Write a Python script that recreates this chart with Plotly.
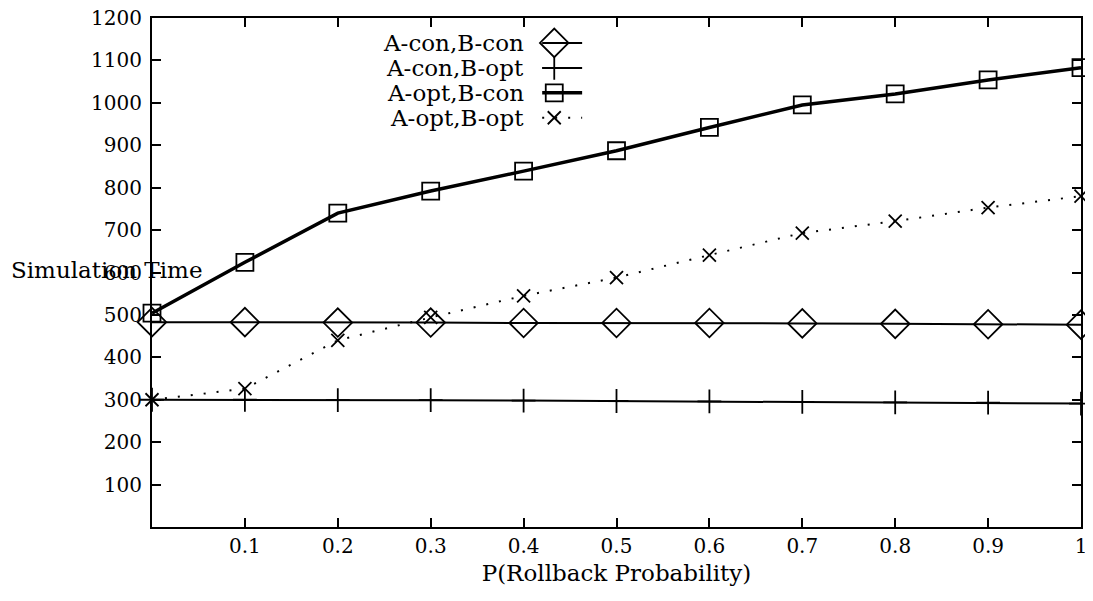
import plotly.graph_objects as go

# ---- data ----
p = [0.0, 0.1, 0.2, 0.3, 0.4, 0.5, 0.6, 0.7, 0.8, 0.9, 1.0]
a_con_b_con = [483, 483, 482, 482, 481, 481, 481, 480, 479, 478, 477]
a_con_b_opt = [300, 300, 299, 299, 298, 297, 296, 295, 294, 293, 291]
a_opt_b_con = [504, 624, 740, 792, 839, 887, 942, 995, 1021, 1054, 1083]
a_opt_b_opt = [300, 326, 440, 494, 545, 588, 641, 693, 721, 753, 780]
series_names = ["A-con,B-con", "A-con,B-opt", "A-opt,B-con", "A-opt,B-opt"]
x_ticks = [0.1, 0.2, 0.3, 0.4, 0.5, 0.6, 0.7, 0.8, 0.9, 1]
x_tick_text = ["0.1", "0.2", "0.3", "0.4", "0.5", "0.6", "0.7", "0.8", "0.9", "1"]
y_ticks = [100, 200, 300, 400, 500, 600, 700, 800, 900, 1000, 1100, 1200]

FONT = "DejaVu Serif"
FS = 20
FS_TEXT = 23

styles = [
    dict(line=dict(color="black", width=2),
         marker=dict(symbol="diamond-open", size=22, color="black", line=dict(width=1.8, color="black"))),
    dict(line=dict(color="black", width=2),
         marker=dict(symbol="cross-thin-open", size=17, color="black", line=dict(width=1.8, color="black"))),
    dict(line=dict(color="black", width=3.5),
         marker=dict(symbol="square-open", size=17, color="black", line=dict(width=1.8, color="black"))),
    dict(line=dict(color="black", width=2, dash="2px,11px"),
         marker=dict(symbol="x-thin-open", size=13, color="black", line=dict(width=1.8, color="black"))),
]
all_series = [a_con_b_con, a_con_b_opt, a_opt_b_con, a_opt_b_opt]

fig = go.Figure()
for name, ys, st in zip(series_names, all_series, styles):
    fig.add_trace(go.Scatter(x=p, y=ys, mode="lines+markers", name=name,
                             line=st["line"], marker=st["marker"], showlegend=False,
                             cliponaxis=False))

# ---- manual legend (text left of sample, as in the reference) ----
leg_x0, leg_x1, leg_xm = 0.420, 0.463, 0.433
leg_rows = [0.951, 0.902, 0.853, 0.804]
for name, ry, st in zip(series_names, leg_rows, styles):
    fig.add_trace(go.Scatter(x=[leg_x0, leg_x1], y=[ry, ry], mode="lines",
                             line=st["line"], xaxis="x2", yaxis="y2",
                             showlegend=False, hoverinfo="skip"))
    fig.add_trace(go.Scatter(x=[leg_xm], y=[ry], mode="markers",
                             marker=st["marker"], xaxis="x2", yaxis="y2",
                             showlegend=False, hoverinfo="skip", cliponaxis=False))
    fig.add_annotation(x=0.403, y=ry, xref="paper", yref="paper", text=name,
                       showarrow=False, xanchor="right", yanchor="middle",
                       font=dict(family=FONT, size=FS_TEXT, color="black"))

fig.add_annotation(x=-0.154, y=605, xref="paper", yref="y", text="Simulation Time",
                   showarrow=False, xanchor="left", yanchor="middle",
                   font=dict(family=FONT, size=FS_TEXT, color="black"))

axis_common = dict(showgrid=False, zeroline=False, showline=True, linecolor="black",
                   linewidth=2, mirror="ticks", ticks="inside", ticklen=9, tickwidth=1.5,
                   tickcolor="black", automargin=False, ticklabeloverflow="allow",
                   tickfont=dict(family=FONT, size=FS, color="black"))

# page body has an 8px margin, so the figure is sized/offset to compensate
fig.update_layout(
    width=1085, height=593,
    margin=dict(l=144, r=12, t=10, b=74),
    paper_bgcolor="white", plot_bgcolor="white",
    xaxis=dict(range=[0, 1], tickvals=x_ticks, ticktext=x_tick_text,
               title=dict(text="P(Rollback Probability)", standoff=8,
                          font=dict(family=FONT, size=FS_TEXT, color="black")),
               **axis_common),
    yaxis=dict(range=[0, 1200], tickvals=y_ticks, ticklabelstandoff=4, **axis_common),
    xaxis2=dict(range=[0, 1], overlaying="x", visible=False, anchor="y2"),
    yaxis2=dict(range=[0, 1], overlaying="y", visible=False, anchor="x2"),
    showlegend=False,
)

fig.write_html("out.html")
